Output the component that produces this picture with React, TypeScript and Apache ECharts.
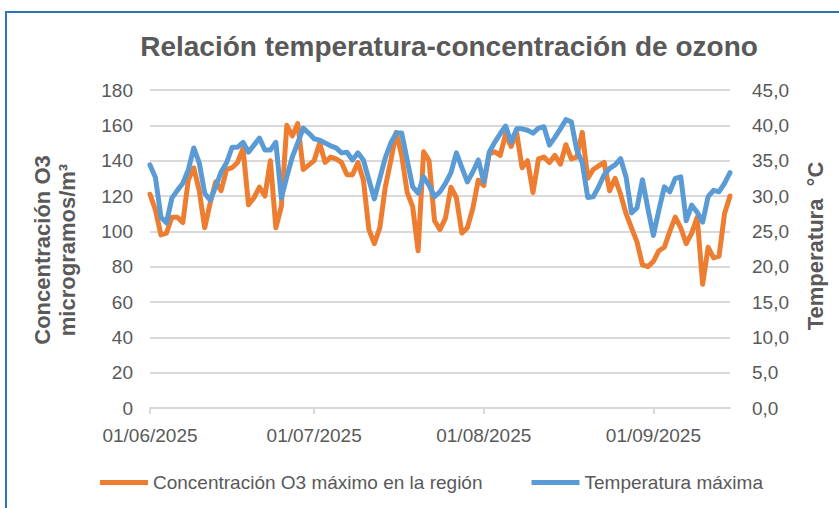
import React, { useEffect, useRef } from "react";
import * as echarts from "echarts";

const TITLE = "Relación temperatura-concentración de ozono";
const SERIES_O3 = "Concentración O3 máximo en la región";
const SERIES_T = "Temperatura máxima";

// Daily values from 01/06/2025
const o3Values = [
  121, 112, 98, 99, 108, 108, 105, 129, 136, 123,
  102, 116, 128, 123, 135, 136, 139, 147, 115, 119,
  125, 120, 140, 102, 114, 160, 154, 161, 135, 137.5,
  140, 150, 139, 142, 141, 139, 132, 132, 139, 129,
  101, 93, 102, 125, 140, 156, 143, 122, 114, 89,
  145, 140, 106, 101, 107.5, 125, 119, 99, 102, 113,
  129, 126, 144, 145, 143, 155, 148, 156, 136, 140,
  122, 141, 142, 139, 143, 138, 149, 141, 142, 156,
  130, 135, 137, 139, 123, 130, 121, 110, 102, 94,
  81, 80, 83, 89, 91, 100, 108, 102, 93, 99,
  108, 70, 91, 85, 86, 110, 120,
];

const tempValues = [
  34.4, 32.6, 27.0, 26.2, 29.7, 30.8, 31.8, 33.7, 36.8, 34.7,
  30.4, 29.4, 31.3, 33.4, 34.7, 36.9, 36.9, 37.6, 36.2, 37.2,
  38.2, 36.5, 36.5, 37.6, 29.7, 32.7, 35.5, 37.5, 39.6, 38.9,
  38.1, 37.9, 37.5, 37.1, 36.8, 36.1, 36.2, 35.1, 36.1, 35.1,
  32.3, 29.6, 32.5, 35.4, 37.5, 38.9, 38.9, 35.1, 31.3, 30.4,
  32.7, 31.5, 29.9, 30.6, 31.8, 33.3, 36.1, 34.0, 32.0, 33.4,
  35.1, 32.0, 36.2, 37.6, 38.8, 39.9, 37.6, 39.5, 39.5, 39.3,
  38.9, 39.6, 39.8, 37.2, 38.3, 39.5, 40.8, 40.5, 36.5, 34.7,
  29.8, 29.9, 31.3, 33.0, 33.9, 34.4, 35.3, 32.7, 27.6, 28.3,
  32.3, 28.2, 24.4, 28.0, 31.3, 30.6, 32.5, 32.7, 26.5, 28.7,
  27.7, 26.3, 29.9, 30.8, 30.6, 31.8, 33.3,
];

const pad = (n: number) => (n < 10 ? "0" + n : "" + n);
const dates: string[] = o3Values.map((_, i) => {
  const d = new Date(Date.UTC(2025, 5, 1 + i));
  return `${pad(d.getUTCDate())}/${pad(d.getUTCMonth() + 1)}/${d.getUTCFullYear()}`;
});

const leftTicks = { min: 0, max: 180, interval: 20 };
const rightTicks = { min: 0, max: 45, interval: 5 };

const FONT = "'Liberation Sans', Arial, sans-serif";
const TEXT = "#595959";

export default function App() {
  const ref = useRef<HTMLDivElement>(null);
  useEffect(() => {
    if (!ref.current) return;
    const chart = echarts.init(ref.current, undefined, { renderer: "svg" });
    const isMonthStart = (_i: number, v: string) => v.startsWith("01/");
    chart.setOption({
      animation: false,
      backgroundColor: "#ffffff",
      textStyle: { fontFamily: FONT },
      title: {
        text: TITLE,
        left: 444,
        textAlign: "center",
        top: 27,
        textStyle: { fontFamily: FONT, fontSize: 28, fontWeight: "bold", color: TEXT },
      },
      grid: { left: 150, right: 109, top: 90, bottom: 100 },
      legend: {
        left: 100,
        top: 473,
        padding: 0,
        icon: "rect",
        itemWidth: 48,
        itemHeight: 5,
        itemGap: 49,
        textStyle: { fontFamily: FONT, fontSize: 19, color: TEXT },
        data: [SERIES_O3, SERIES_T],
      },
      xAxis: {
        type: "category",
        data: dates,
        boundaryGap: false,
        axisLine: { lineStyle: { color: "#d9d9d9", width: 2 } },
        axisTick: { interval: isMonthStart, length: 6, lineStyle: { color: "#d9d9d9", width: 2 } },
        axisLabel: {
          interval: isMonthStart,
          margin: 18,
          fontFamily: FONT,
          fontSize: 19,
          color: TEXT,
        },
        splitLine: { show: false },
      },
      yAxis: [
        {
          type: "value",
          ...leftTicks,
          axisLine: { show: false },
          axisTick: { show: false },
          axisLabel: { margin: 17, fontFamily: FONT, fontSize: 19, color: TEXT },
          splitLine: { lineStyle: { color: "#d9d9d9", width: 2 } },
        },
        {
          type: "value",
          ...rightTicks,
          axisLine: { show: false },
          axisTick: { show: false },
          axisLabel: {
            margin: 22,
            fontFamily: FONT,
            fontSize: 19,
            color: TEXT,
            formatter: (v: number) => v.toFixed(1).replace(".", ","),
          },
          splitLine: { show: false },
        },
      ],
      series: [
        {
          name: SERIES_O3,
          type: "line",
          yAxisIndex: 0,
          data: o3Values,
          showSymbol: false,
          symbol: "none",
          itemStyle: { color: "#ED7D31" },
          lineStyle: { color: "#ED7D31", width: 5, cap: "round", join: "round" },
        },
        {
          name: SERIES_T,
          type: "line",
          yAxisIndex: 1,
          data: tempValues,
          showSymbol: false,
          symbol: "none",
          itemStyle: { color: "#5B9BD5" },
          lineStyle: { color: "#5B9BD5", width: 5, cap: "round", join: "round" },
        },
      ],
      graphic: [
        {
          type: "rect",
          shape: { x: 6, y: 12, width: 900, height: 600 },
          style: { fill: "none", stroke: "#2E75B6", lineWidth: 2 },
          silent: true,
        },
        {
          type: "text",
          x: 42,
          y: 250,
          rotation: Math.PI / 2,
          style: {
            text: "Concentración O3",
            font: `bold 22px ${FONT}`,
            fill: TEXT,
            textAlign: "center",
            textVerticalAlign: "middle",
          },
        },
        {
          type: "text",
          x: 67,
          y: 250,
          rotation: Math.PI / 2,
          style: {
            text: "microgramos/m³",
            font: `bold 22px ${FONT}`,
            fill: TEXT,
            textAlign: "center",
            textVerticalAlign: "middle",
          },
        },
        {
          type: "text",
          x: 815,
          y: 246,
          rotation: Math.PI / 2,
          style: {
            text: "Temperatura  °C",
            font: `bold 22px ${FONT}`,
            fill: TEXT,
            textAlign: "center",
            textVerticalAlign: "middle",
          },
        },
      ],
    });
    return () => chart.dispose();
  }, []);
  return (
    <div
      ref={ref}
      style={{ position: "absolute", left: 0, top: 0, width: 839, height: 508 }}
    />
  );
}
